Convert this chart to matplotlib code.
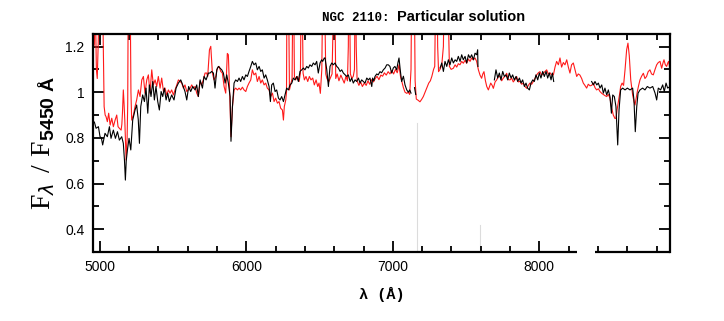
import matplotlib
matplotlib.use("Agg")
import matplotlib.pyplot as plt
import numpy as np
from matplotlib.ticker import MultipleLocator, FuncFormatter

nan = np.nan

# observed spectrum (black), gaps are masked regions
black_wave = [
    4954, 4962, 4974, 4990, 5001, 5010, 5019, 5035, 5051, 5065, 5076, 5092, 5106, 5120, 5133, 5149,
    5160, 5168, 5174, 5180, 5188, 5199, 5211, 5224, 5240, 5251, 5262, 5270, 5279, 5292, 5304, 5315,
    5327, 5338, 5349, 5361, 5372, 5383, 5395, 5406, 5418, 5429, 5440, 5452, 5463, 5474, 5490, 5506,
    5520, 5536, 5552, 5565, 5581, 5593, 5606, 5620, 5634, 5650, 5661, 5672, 5684, 5700, 5711, 5725,
    5741, 5752, 5763, 5775, 5786, 5798, 5809, 5820, 5832, 5843, 5855, 5866, 5877, 5889, 5895, 5905,
    5916, 5927, 5939, 5950, 5961, 5973, 5984, 5996, 6007, 6018, 6030, 6041, 6052, 6064, 6075, 6087,
    6098, 6109, 6121, 6132, 6143, 6155, 6164, 6173, 6184, 6196, 6207, 6219, 6230, 6241, 6253, 6264,
    6275, 6287, 6298, 6310, 6321, 6332, 6344, 6355, 6366, 6378, 6389, 6400, 6412, 6423, 6434, 6446,
    6457, 6469, 6480, 6491, 6503, 6514, 6521, 6532, 6537, 6549, 6560, 6571, 6583, 6594, 6605, 6617,
    6628, 6640, 6651, 6662, 6674, 6685, 6696, 6708, 6719, 6730, 6742, 6753, 6765, 6776, 6787, 6799,
    6810, 6822, 6833, 6844, 6856, 6862, 6870, 6878, 6890, 6900, 6912, 6923, 6935, 6947, 6958, 6969,
    6980, 6992, 7003, 7014, 7026, 7035, 7042, 7050, 7060, 7072, 7083, 7095, 7106, 7115, 7124, 7136,
    7148, 7156, 7200,
    7322, 7334, 7345, 7356, 7368, 7379, 7390, 7402, 7413, 7425, 7436, 7447, 7459, 7470, 7481, 7493,
    7504, 7516, 7527, 7538, 7550, 7561, 7572, 7579, 7581, 7640,
    7693, 7704, 7716, 7727, 7738, 7750, 7761, 7773, 7784, 7795, 7807, 7818, 7829, 7841, 7852, 7864,
    7875, 7886, 7898, 7909, 7920, 7932, 7943, 7955, 7966, 7977, 7989, 8000, 8011, 8023, 8034, 8046,
    8057, 8068, 8080, 8089, 8098, 8200,
    8357, 8369, 8380, 8392, 8403, 8414, 8426, 8437, 8448, 8460, 8471, 8482, 8492, 8501, 8512, 8523,
    8535, 8544, 8555, 8569, 8585, 8601, 8619, 8637, 8646, 8655, 8665, 8674, 8687, 8705, 8721, 8737,
    8755, 8774, 8790, 8801, 8812, 8828, 8842, 8853, 8865, 8876, 8892,
]
black_flux = [
    0.864, 0.87, 0.842, 0.849, 0.805, 0.80, 0.769, 0.820, 0.805, 0.849, 0.798, 0.834, 0.798, 0.827, 0.790, 0.805,
    0.776, 0.70, 0.615, 0.70, 0.747, 0.798, 0.747, 0.878, 0.922, 0.944, 0.88, 0.776, 0.937, 0.988, 0.959, 1.018,
    0.908, 1.032, 0.981, 1.047, 0.966, 1.025, 0.959, 0.922, 1.003, 0.981, 1.018, 0.966, 0.996, 0.959, 0.988, 0.966,
    1.018, 1.040, 1.054, 1.032, 1.003, 0.966, 1.025, 1.003, 1.025, 1.010, 1.032, 0.981, 1.054, 1.018, 1.069, 1.054,
    1.084, 1.084, 1.091, 1.084, 1.018, 1.098, 1.113, 1.106, 1.098, 1.084, 1.040, 1.076, 1.040, 0.981, 0.785, 0.937,
    1.040, 1.054, 1.047, 1.062, 1.047, 1.069, 1.054, 1.076, 1.069, 1.091, 1.113, 1.135, 1.120, 1.128, 1.098, 1.113,
    1.091, 1.098, 1.062, 1.076, 1.054, 1.025, 0.959, 1.032, 1.040, 1.003, 1.010, 0.974, 0.966, 0.981, 0.959, 0.988,
    1.018, 1.010, 1.032, 1.040, 1.062, 1.054, 1.069, 1.047, 1.091, 1.098, 1.106, 1.098, 1.113, 1.106, 1.120, 1.113,
    1.128, 1.120, 1.135, 1.084, 1.128, 1.142, 1.135, 1.150, 1.150, 1.098, 1.025, 1.113, 1.128, 1.120, 1.128, 1.113,
    1.106, 1.091, 1.098, 1.084, 1.076, 1.069, 1.076, 1.047, 1.062, 1.040, 1.054, 1.047, 1.062, 1.040, 1.054, 1.047,
    1.040, 1.062, 1.054, 1.062, 1.025, 1.062, 1.05, 1.069, 1.08, 1.076, 1.09, 1.085, 1.098, 1.106, 1.12, 1.120,
    1.113, 1.084, 1.106, 1.113, 1.098, 1.13, 1.150, 1.10, 1.047, 1.07, 1.032, 1.010, 1.00, 1.01, 0.996, nan,
    1.02, 0.99, nan,
    1.106, 1.128, 1.091, 1.135, 1.113, 1.142, 1.120, 1.150, 1.128, 1.142, 1.135, 1.157, 1.135, 1.164, 1.142, 1.157,
    1.128, 1.164, 1.150, 1.164, 1.142, 1.171, 1.164, 1.186, 1.113, nan,
    1.054, 1.098, 1.062, 1.084, 1.054, 1.091, 1.069, 1.076, 1.054, 1.084, 1.062, 1.076, 1.054, 1.069, 1.047, 1.062,
    1.040, 1.054, 1.025, 1.040, 1.018, 1.010, 1.040, 1.054, 1.047, 1.076, 1.054, 1.084, 1.062, 1.091, 1.069, 1.091,
    1.062, 1.084, 1.054, 1.084, 1.047, nan,
    1.047, 1.032, 1.047, 1.032, 1.040, 1.018, 1.032, 0.996, 1.018, 0.988, 1.010, 0.981, 0.908, 0.988, 0.981, 0.937,
    0.769, 0.922, 1.010, 1.018, 1.010, 1.018, 1.010, 1.018, 0.966, 0.827, 0.937, 0.996, 1.010, 1.018, 1.010, 1.025,
    1.018, 1.025, 0.996, 0.966, 1.018, 1.010, 1.032, 1.003, 1.040, 1.018, 1.025,
]

# synthetic spectrum (red), emission lines run off the top
red_wave = [
    4953, 4958, 4962, 4966, 4970, 4976, 4982, 4988, 4995, 5005, 5015, 5022, 5029, 5036, 5042, 5051,
    5060, 5070, 5081, 5092, 5104, 5115, 5124, 5133, 5145, 5150, 5154, 5160, 5165, 5170, 5179, 5186,
    5190, 5194, 5200, 5206, 5212, 5217, 5229, 5240, 5251, 5263, 5274, 5286, 5297, 5308, 5320, 5331,
    5342, 5354, 5365, 5377, 5388, 5399, 5411, 5422, 5434, 5445, 5456, 5468, 5479, 5490, 5502, 5513,
    5525, 5536, 5547, 5559, 5570, 5581, 5593, 5604, 5616, 5627, 5638, 5650, 5661, 5672, 5684, 5695,
    5706, 5718, 5729, 5736, 5748, 5757, 5768, 5779, 5791, 5802, 5814, 5825, 5836, 5848, 5859, 5866,
    5870, 5877, 5886, 5895, 5905, 5916, 5927, 5939, 5950, 5961, 5973, 5984, 5996, 6007, 6018, 6030,
    6041, 6052, 6064, 6075, 6087, 6098, 6109, 6121, 6132, 6143, 6155, 6166, 6178, 6189, 6200, 6212,
    6223, 6234, 6246, 6253, 6259, 6269, 6274, 6278, 6284, 6290, 6294, 6305, 6312, 6318, 6322, 6328,
    6337, 6348, 6360, 6369, 6375, 6380, 6387, 6396, 6407, 6419, 6430, 6441, 6453, 6464, 6476, 6487,
    6496, 6505, 6515, 6522, 6530, 6537, 6542, 6550, 6562, 6575, 6585, 6592, 6598, 6604, 6610, 6620,
    6632, 6645, 6655, 6668, 6680, 6690, 6696, 6700, 6705, 6710, 6720, 6730, 6738, 6744, 6750, 6756,
    6768, 6780, 6792, 6805, 6818, 6830, 6842, 6855, 6868, 6880, 6892, 6905, 6918, 6930, 6942, 6955,
    6968, 6980, 6993, 7005, 7018, 7030, 7042, 7052, 7062, 7072, 7083, 7095, 7105, 7115, 7124, 7130,
    7138, 7146, 7152, 7160, 7172, 7185, 7196, 7208, 7220, 7232, 7245, 7256, 7266, 7278, 7286, 7293,
    7300, 7306, 7312, 7322, 7334, 7345, 7356, 7370, 7380, 7386, 7398, 7413, 7425, 7436, 7447, 7458,
    7470, 7481, 7493, 7504, 7516, 7527, 7538, 7549, 7561, 7572, 7584, 7595, 7606, 7614, 7622, 7632,
    7641, 7652, 7668, 7678, 7686, 7698, 7709, 7720, 7731, 7743, 7754, 7766, 7777, 7788, 7800, 7811,
    7822, 7834, 7845, 7856, 7868, 7879, 7891, 7902, 7914, 7925, 7936, 7948, 7959, 7970, 7982, 7993,
    8004, 8016, 8027, 8038, 8050, 8061, 8073, 8084, 8096, 8107, 8118, 8130, 8141, 8152, 8164, 8175,
    8187, 8198, 8209, 8220, 8232, 8243, 8255, 8266, 8277, 8289, 8300, 8311, 8323, 8334, 8346, 8357,
    8369, 8380, 8391, 8403, 8414, 8426, 8437, 8448, 8460, 8471, 8482, 8494, 8505, 8516, 8523, 8530,
    8540, 8550, 8555, 8565, 8575, 8585, 8596, 8605, 8614, 8624, 8637, 8646, 8653, 8660, 8669, 8678,
    8687, 8698, 8710, 8721, 8732, 8743, 8755, 8766, 8778, 8790, 8801, 8812, 8824, 8835, 8845, 8851,
    8860, 8869, 8878, 8883, 8892,
]
red_flux = [
    1.18, 1.20, 1.21, 1.35, 1.35, 1.10, 1.06, 1.20, 1.40, 2.0, 1.6, 1.25, 0.937, 0.90, 0.893, 0.871,
    0.908, 0.856, 0.886, 0.849, 0.878, 0.900, 0.849, 0.842, 0.834, 0.86, 0.908, 1.010, 0.95, 0.878, 0.703, 0.80,
    0.95, 1.5, 2.0, 1.5, 1.0, 0.878, 0.900, 0.937, 0.966, 1.010, 0.981, 1.054, 1.069, 0.996, 1.054, 1.076,
    0.996, 1.098, 1.032, 1.054, 1.025, 1.069, 1.018, 1.062, 1.003, 1.018, 0.988, 1.010, 0.996, 1.010, 0.988, 1.010,
    1.032, 1.054, 1.047, 1.040, 1.018, 1.032, 1.003, 1.010, 1.018, 1.032, 1.018, 1.025, 0.996, 0.981, 1.047, 1.032,
    1.054, 1.084, 1.084, 1.069, 1.186, 1.201, 1.084, 1.054, 1.069, 1.106, 1.113, 1.091, 1.084, 1.025, 0.996, 1.10,
    1.17, 1.164, 0.996, 0.805, 0.937, 1.010, 1.018, 1.010, 1.018, 1.010, 1.022, 1.010, 1.003, 1.025, 1.040, 1.054,
    1.098, 1.076, 1.084, 1.047, 1.069, 1.040, 1.054, 1.032, 1.040, 1.018, 1.010, 0.981, 0.996, 0.959, 0.974, 0.952,
    0.959, 0.930, 0.922, 0.878, 0.937, 0.966, 1.0, 1.6, 1.8, 1.3, 1.010, 1.040, 1.06, 1.5, 1.5, 1.069,
    1.054, 1.069, 1.047, 1.084, 1.5, 1.5, 1.084, 1.054, 1.069, 1.047, 1.069, 1.054, 1.062, 1.032, 1.054, 1.025,
    1.040, 0.995, 1.10, 1.5, 1.8, 1.3, 1.08, 1.060, 1.045, 1.065, 1.08, 1.3, 1.8, 1.4, 1.06, 1.08,
    1.05, 1.075, 1.06, 1.04, 1.07, 1.05, 1.2, 1.7, 1.4, 1.08, 1.06, 1.07, 1.1, 1.6, 1.2, 1.05,
    1.03, 1.045, 1.025, 1.04, 1.03, 1.05, 1.035, 1.055, 1.045, 1.06, 1.07, 1.055, 1.075, 1.07, 1.085, 1.075,
    1.09, 1.08, 1.095, 1.08, 1.10, 1.085, 1.12, 1.07, 1.045, 1.02, 1.00, 0.995, 1.00, 0.99, 1.10, 1.6,
    1.9, 1.5, 1.05, 0.97, 0.965, 0.958, 0.968, 0.981, 1.00, 1.02, 1.04, 1.05, 1.069, 1.10, 1.113, 1.5,
    1.6, 1.2, 1.09, 1.10, 1.12, 1.2, 1.7, 1.9, 1.3, 1.113, 1.10, 1.105, 1.12, 1.11, 1.125, 1.12,
    1.135, 1.127, 1.14, 1.127, 1.145, 1.135, 1.15, 1.142, 1.15, 1.135, 1.098, 1.075, 1.061, 1.08, 1.09, 1.05,
    1.025, 1.01, 1.04, 1.03, 1.017, 1.045, 1.054, 1.07, 1.069, 1.05, 1.062, 1.07, 1.083, 1.055, 1.054, 1.062,
    1.045, 1.055, 1.069, 1.045, 1.048, 1.035, 1.04, 1.025, 1.017, 1.03, 1.04, 1.035, 1.047, 1.06, 1.076, 1.085,
    1.09, 1.075, 1.083, 1.09, 1.098, 1.08, 1.085, 1.076, 1.076, 1.11, 1.135, 1.12, 1.15, 1.11, 1.13, 1.12,
    1.142, 1.11, 1.084, 1.12, 1.128, 1.10, 1.069, 1.08, 1.075, 1.06, 1.04, 1.03, 1.018, 1.035, 1.028, 1.03,
    1.04, 1.02, 1.01, 1.015, 1.003, 0.995, 0.99, 0.985, 0.981, 0.99, 0.975, 0.93, 0.90, 0.885, 0.886, 0.92,
    0.959, 1.00, 1.025, 1.04, 1.03, 1.098, 1.186, 1.215, 1.16, 1.054, 0.988, 0.96, 0.944, 0.97, 1.003, 1.03,
    1.054, 1.07, 1.083, 1.06, 1.069, 1.09, 1.098, 1.08, 1.076, 1.10, 1.12, 1.13, 1.135, 1.105, 1.13, 1.142,
    1.12, 1.113, 1.13, 1.135, 1.098,
]

# faint grey residual lines
grey_wave = [7165, 7598]
grey_top = [0.864, 0.42]

x_min, x_max = 4953, 8892
y_min, y_max = 0.3, 1.255
gap_lo, gap_hi = 8260, 8380

plt.rcParams['mathtext.fontset'] = 'custom'
plt.rcParams['mathtext.rm'] = 'Liberation Serif'
plt.rcParams['mathtext.sf'] = 'Liberation Sans:bold'

fig = plt.figure(figsize=(7.24, 3.21), dpi=100)
ax = fig.add_axes([93 / 724, 1 - 252 / 321, (670 - 93) / 724, (252 - 34) / 321])

for w, t in zip(grey_wave, grey_top):
    ax.plot([w, w], [y_min, t], color='#dcdcdc', lw=0.8, zorder=1)

ax.plot(red_wave, red_flux, color='#ff1a1a', lw=0.8, zorder=2)
ax.plot(black_wave, black_flux, color='black', lw=0.8, zorder=3)

ax.set_xlim(x_min, x_max)
ax.set_ylim(y_min, y_max)

ax.xaxis.set_major_locator(MultipleLocator(1000))
ax.xaxis.set_minor_locator(MultipleLocator(200))
ax.yaxis.set_major_locator(MultipleLocator(0.2))
ax.yaxis.set_minor_locator(MultipleLocator(0.1))
ax.yaxis.set_major_formatter(FuncFormatter(lambda v, p: '%g' % round(v, 2)))

ax.tick_params(which='both', direction='in', top=True, right=True, width=1.3,
               labelsize=10, pad=6)
ax.tick_params(which='major', length=8)
ax.tick_params(which='minor', length=4.5)
for lab in ax.get_xticklabels() + ax.get_yticklabels():
    lab.set_family('Liberation Sans')

for s in ['left', 'right', 'top']:
    ax.spines[s].set_linewidth(1.6)
ax.spines['bottom'].set_visible(False)
# bottom axis is broken between the two detector ranges
ax.plot([x_min, gap_lo], [0, 0], transform=ax.get_xaxis_transform(), color='black',
        lw=1.6, clip_on=False, solid_capstyle='butt')
ax.plot([gap_hi, x_max], [0, 0], transform=ax.get_xaxis_transform(), color='black',
        lw=1.6, clip_on=False, solid_capstyle='butt')

ax.set_xlabel('λ (Å)', family='Liberation Mono', fontweight='bold', fontsize=11, labelpad=9)
ax.set_ylabel(r'$\mathrm{F}_{\lambda}\ /\ \mathrm{F}_{\mathsf{5450\ \AA}}$', fontsize=20, labelpad=6)

fig.text(322 / 724, 1 - 21 / 321, 'NGC 2110:', family='Liberation Mono', fontweight='bold',
         fontsize=9, ha='left', va='baseline')
fig.text(397 / 724, 1 - 21 / 321, 'Particular solution', family='Liberation Sans',
         fontweight='bold', fontsize=10.5, ha='left', va='baseline')

fig.savefig('out.png', dpi=100)
